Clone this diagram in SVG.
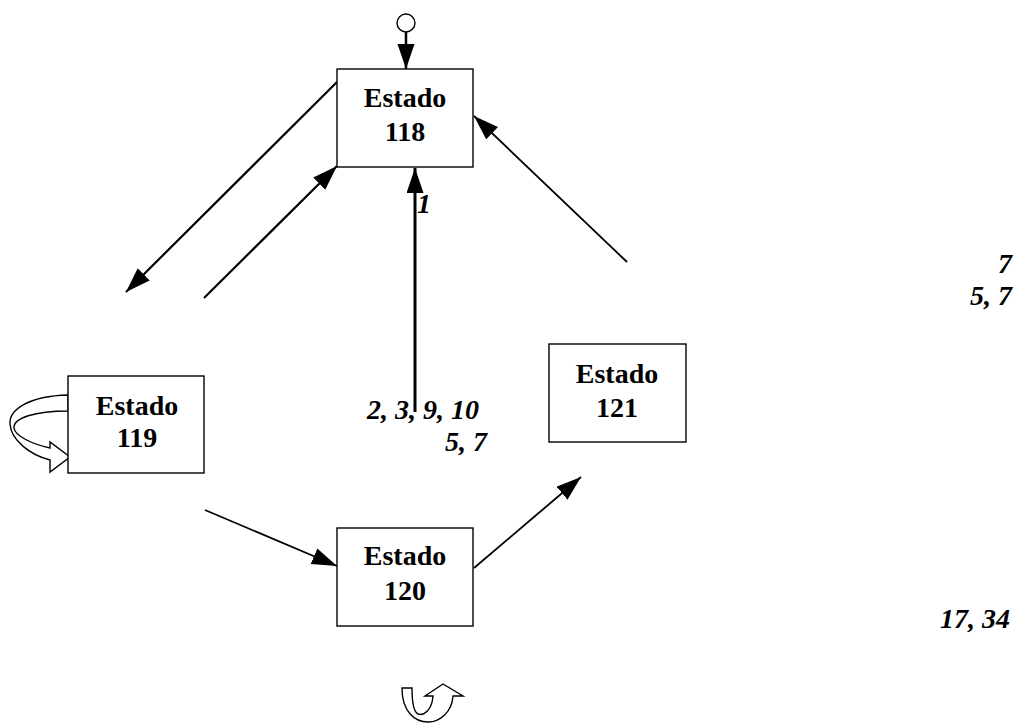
<svg xmlns="http://www.w3.org/2000/svg" width="1017" height="724" viewBox="0 0 1017 724">
<style>
.box{fill:#fff;stroke:#000;stroke-width:1.4}
.nt{font-family:"Liberation Serif","Times New Roman",serif;font-weight:bold;font-size:28px;text-anchor:middle;fill:#000}
.lb{font-family:"Liberation Serif","Times New Roman",serif;font-weight:bold;font-style:italic;font-size:28px;fill:#000}
.ln{stroke:#000;fill:none}
.curl{fill:#fff;stroke:#000;stroke-width:1.4;stroke-linejoin:miter}
</style>
<defs>
<marker id="ah" markerUnits="userSpaceOnUse" markerWidth="26" markerHeight="18" refX="25" refY="8.5" orient="auto">
<path d="M0,0 L25,8.5 L0,17 z" fill="#000"/>
</marker>
</defs>
<g id="connectors">
<circle cx="406" cy="23" r="9" fill="#fff" stroke="#000" stroke-width="1.4"/>
<line class="ln" x1="406" y1="32" x2="406" y2="69" stroke-width="2.5" marker-end="url(#ah)"/>
<line class="ln" x1="337" y1="82" x2="126" y2="292" stroke-width="2.2" marker-end="url(#ah)"/>
<line class="ln" x1="204" y1="298" x2="337" y2="166" stroke-width="2.2" marker-end="url(#ah)"/>
<line class="ln" x1="415" y1="412" x2="415" y2="168" stroke-width="3" marker-end="url(#ah)"/>
<line class="ln" x1="627" y1="262" x2="474" y2="116" stroke-width="1.8" marker-end="url(#ah)"/>
<line class="ln" x1="205" y1="510" x2="337" y2="566" stroke-width="1.8" marker-end="url(#ah)"/>
<line class="ln" x1="474" y1="568" x2="581" y2="477" stroke-width="1.8" marker-end="url(#ah)"/>
<path class="curl" d="M68 395 C28 396,9 410,10 424 C11 440,30 455,50 460 L50 472 L70 457 L50 442 L50 448 C32 444,15 436,14 428 C13 418,35 411,68 411 Z"/>
<path class="curl" d="M402 688 C402 712,415 722,428 722 C440 722,452 712,453 696 L463 696 L443 684 L425 696 L433 696 C432 710,424 716,418 714 C414 712,412 702,412 688 Z"/>
</g>
<g id="node118">
<rect class="box" x="337" y="69" width="136" height="98"/>
<text class="nt" x="405" y="107">Estado</text>
<text class="nt" x="405" y="141">118</text>
</g>
<g id="node119">
<rect class="box" x="68" y="376" width="136" height="97"/>
<text class="nt" x="137" y="415">Estado</text>
<text class="nt" x="137" y="447">119</text>
</g>
<g id="node120">
<rect class="box" x="337" y="528" width="136" height="98"/>
<text class="nt" x="405" y="565">Estado</text>
<text class="nt" x="405" y="600">120</text>
</g>
<g id="node121">
<rect class="box" x="549" y="344" width="137" height="98"/>
<text class="nt" x="617" y="383">Estado</text>
<text class="nt" x="617" y="417">121</text>
</g>
<g id="labels">
<text class="lb" x="417" y="213">1</text>
<text class="lb" x="367" y="419">2, 3, 9, 10</text>
<text class="lb" x="487" y="451" text-anchor="end">5, 7</text>
<text class="lb" x="1012" y="273" text-anchor="end">7</text>
<text class="lb" x="1012" y="305" text-anchor="end">5, 7</text>
<text class="lb" x="1010" y="628" text-anchor="end">17, 34</text>
</g>
</svg>
